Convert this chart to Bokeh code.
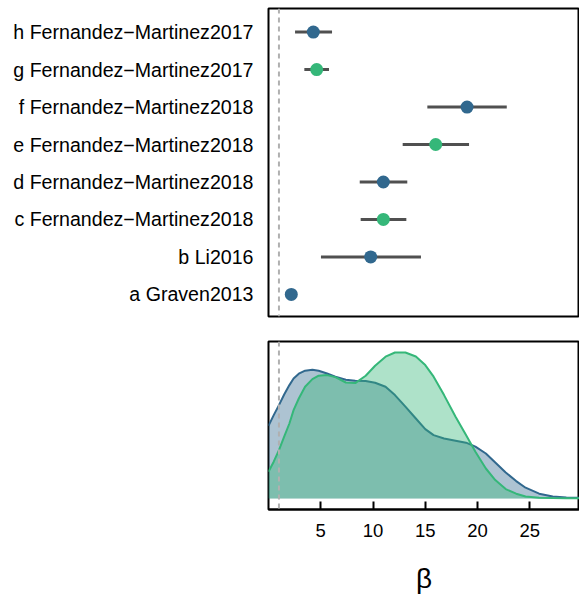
from bokeh.plotting import figure
from bokeh.layouts import column
from bokeh.models import Range1d, FixedTicker, Span, ColumnDataSource
from bokeh.embed import file_html
from bokeh.resources import INLINE

# ---- data ----
studies = ["a Graven2013", "b Li2016",
           "c Fernandez\u2212Martinez2018", "d Fernandez\u2212Martinez2018",
           "e Fernandez\u2212Martinez2018", "f Fernandez\u2212Martinez2018",
           "g Fernandez\u2212Martinez2017", "h Fernandez\u2212Martinez2017"]
row = [1, 2, 3, 4, 5, 6, 7, 8]
beta = [2.18, 9.78, 10.99, 10.99, 16.0, 19.0, 4.61, 4.29]
beta_lo = [2.18, 5.02, 8.82, 8.73, 12.84, 15.2, 3.43, 2.54]
beta_hi = [2.18, 14.59, 13.19, 13.28, 19.19, 22.8, 5.79, 6.08]
group = ["blue", "blue", "green", "blue", "green", "blue", "green", "blue"]

dens_x = [0, 0.5, 1, 1.5, 2, 2.4, 2.9, 3.5, 4.2, 4.8, 5.6, 6.4, 7.4, 8.3, 9.3,
          10.2, 11.2, 12.1, 13.1, 14.1, 15, 15.8, 16.8, 17.9, 18.9, 19.8, 20.8,
          21.7, 22.7, 23.7, 24.6, 25.9, 27.2, 28.5, 29.7]
dens_blue = [0.0364, 0.0417, 0.0467, 0.0520, 0.0567, 0.0600, 0.0624, 0.0639,
             0.0644, 0.0639, 0.0625, 0.0609, 0.0594, 0.0589, 0.0587, 0.0579,
             0.0559, 0.0517, 0.0459, 0.0400, 0.0347, 0.0317, 0.0300, 0.0289,
             0.0279, 0.0259, 0.0225, 0.0180, 0.0130, 0.0087, 0.0054, 0.0024,
             0.0010, 0.0005, 0.0004]
dens_green = [0.0134, 0.0184, 0.0242, 0.0309, 0.0375, 0.0442, 0.0500, 0.0559,
              0.0597, 0.0614, 0.0617, 0.0607, 0.0580, 0.0577, 0.0614, 0.0664,
              0.0709, 0.0730, 0.0730, 0.0710, 0.0667, 0.0609, 0.0517, 0.0409,
              0.0317, 0.0234, 0.0150, 0.0092, 0.0047, 0.0024, 0.0010, 0.0004,
              0.0002, 0.0001, 0.0001]

x_ticks = [5, 10, 15, 20, 25]
ref_line = 1

palette = {"blue": "#31688E", "green": "#35B779"}
FONT = "Liberation Sans"

xr = Range1d(0, 29.76)

# ---- top panel: study estimates ----
src = ColumnDataSource(dict(row=row, beta=beta, lo=beta_lo, hi=beta_hi,
                            color=[palette[g] for g in group]))

p1 = figure(width=579, height=325, x_range=xr, y_range=Range1d(0.41, 8.63),
            output_backend="svg", toolbar_location=None,
            min_border_left=268, min_border_right=0, min_border_top=8,
            min_border_bottom=9)
p1.add_layout(Span(location=ref_line, dimension="height", line_color="#b0b0b0",
                   line_width=2, line_dash="5 4"))
p1.segment(x0="lo", x1="hi", y0="row", y1="row", source=src,
           line_color="#505050", line_width=3)
p1.scatter(x="beta", y="row", source=src, size=13, fill_color="color",
           line_color="color", line_width=0)
p1.xaxis.visible = False
p1.yaxis.ticker = FixedTicker(ticks=row)
p1.yaxis.major_label_overrides = {r: s for r, s in zip(row, studies)}
p1.yaxis.axis_line_color = None
p1.yaxis.major_tick_line_color = None
p1.yaxis.minor_tick_line_color = None
p1.yaxis.major_tick_in = 0
p1.yaxis.major_tick_out = 0
p1.yaxis.major_label_standoff = 15
p1.yaxis.major_label_text_font = FONT
p1.yaxis.major_label_text_font_size = "19.6px"
p1.yaxis.major_label_text_color = "black"

# ---- bottom panel: densities ----
p2 = figure(width=579, height=274, x_range=xr, y_range=Range1d(-0.0055, 0.0785),
            output_backend="svg", toolbar_location=None,
            min_border_left=268, min_border_right=0, min_border_top=16,
            min_border_bottom=90)
p2.varea(x=dens_x, y1=0, y2=dens_blue, fill_color=palette["blue"], fill_alpha=0.4)
p2.line(x=dens_x, y=dens_blue, line_color=palette["blue"], line_width=2)
p2.varea(x=dens_x, y1=0, y2=dens_green, fill_color=palette["green"], fill_alpha=0.4)
p2.line(x=dens_x, y=dens_green, line_color=palette["green"], line_width=2)
p2.add_layout(Span(location=ref_line, dimension="height", line_color="#b0b0b0",
                   line_width=2, line_dash="5 4"))
p2.yaxis.visible = False
p2.xaxis.ticker = FixedTicker(ticks=x_ticks)
p2.xaxis.minor_tick_line_color = None
p2.xaxis.major_tick_in = 8
p2.xaxis.major_tick_out = 0
p2.xaxis.major_tick_line_width = 2
p2.xaxis.major_tick_line_color = "black"
p2.xaxis.axis_line_width = 2
p2.xaxis.axis_line_color = "black"
p2.xaxis.major_label_standoff = 14
p2.xaxis.major_label_text_font = FONT
p2.xaxis.major_label_text_font_size = "18.5px"
p2.xaxis.major_label_text_color = "black"
p2.xaxis.axis_label = "\u03b2"
p2.xaxis.axis_label_text_font = FONT
p2.xaxis.axis_label_text_font_style = "normal"
p2.xaxis.axis_label_text_font_size = "28px"
p2.xaxis.axis_label_text_color = "black"
p2.xaxis.axis_label_standoff = 23

for p in (p1, p2):
    p.xgrid.visible = False
    p.ygrid.visible = False
    p.outline_line_color = "black"
    p.outline_line_width = 2
    p.outline_line_alpha = 1
    p.background_fill_color = "white"
    p.border_fill_color = "white"

layout = column(p1, p2, spacing=0)
open("out.html", "w").write(file_html(layout, INLINE))
